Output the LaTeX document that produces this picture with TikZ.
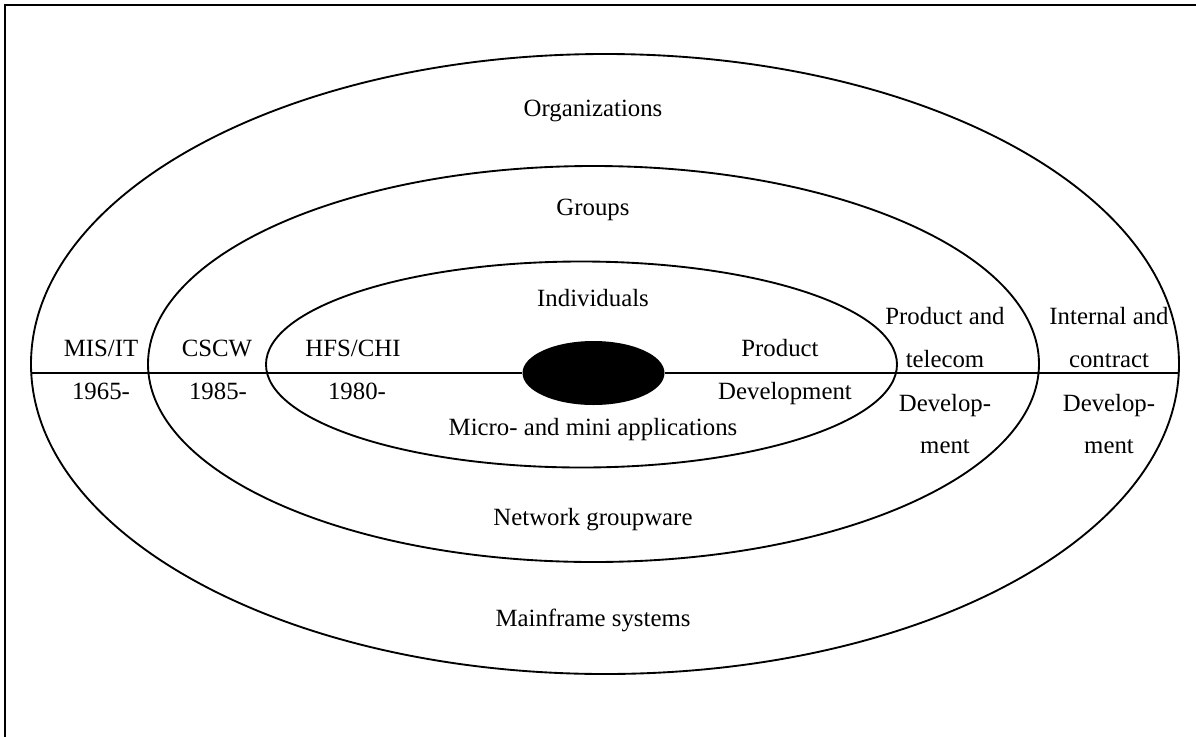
\documentclass[tikz,border=0pt]{standalone}
\usepackage{fontspec}
\setmainfont{Liberation Serif}
\usetikzlibrary{shapes.geometric}

\tikzset{
  ring/.style={draw, ellipse, line width=1.4pt, inner sep=0pt, outer sep=0pt},
  lbl/.style={anchor=base, inner sep=0pt, font=\fontsize{18.6}{22}\selectfont},
}

\begin{document}
\begin{tikzpicture}[x=0.75pt, y=-0.75pt]
          \useasboundingbox (0,0) rectangle (1196,736);
          \clip (0,0) rectangle (1196,736);
          \draw[line width=2.2pt] (5,5) rectangle (1230,770);
          %
          \node[ring, minimum width=861pt, minimum height=465pt] (outer) at (605,364) {};
          \node[ring, minimum width=668.25pt, minimum height=297pt] (middle) at (593.5,364) {};
          \node[ring, minimum width=473.25pt, minimum height=154.5pt] (inner) at (581.5,364.5) {};
          \node[ellipse, fill=black, inner sep=0pt, minimum width=106.5pt, minimum height=48pt] (core) at (593.5,373) {};
          \draw[line width=1.4pt] (outer.west |- core.center) -- (core.west);
          \draw[line width=1.4pt] (core.east) -- (outer.east |- core.center);
          %
          \node[lbl] (orgs) at (593,116) {Organizations};
          \node[lbl] (groups) at (593,215) {Groups};
          \node[lbl] (indiv) at (593,306) {Individuals};
          \node[lbl] (micro) at (593,435) {Micro- and mini applications};
          \node[lbl] (network) at (593,525) {Network groupware};
          \node[lbl] (mainframe) at (593,626) {Mainframe systems};
          %
          \node[lbl] (mis) at (101,356) {MIS/IT};
          \node[lbl] (misyear) at (101,399) {1965-};
          \node[lbl] (cscw) at (217,356) {CSCW};
          \node[lbl] (cscwyear) at (218,399) {1985-};
          \node[lbl] (hfs) at (353,356) {HFS/CHI};
          \node[lbl] (hfsyear) at (357,399) {1980-};
          \node[lbl] (prod) at (780,356) {Product};
          \node[lbl] (proddev) at (785,399) {Development};
          %
          \node[lbl] (telco) at (945,324) {Product and};
          \node[lbl] (telcob) at (945,367) {telecom};
          \node[lbl] (telcodev) at (945,411) {Develop-};
          \node[lbl] (telcodevb) at (945,453) {ment};
          \node[lbl] (intern) at (1109,324) {Internal and};
          \node[lbl] (internb) at (1109,367) {contract};
          \node[lbl] (interndev) at (1109,411) {Develop-};
          \node[lbl] (interndevb) at (1109,453) {ment};
        \end{tikzpicture}
\end{document}
